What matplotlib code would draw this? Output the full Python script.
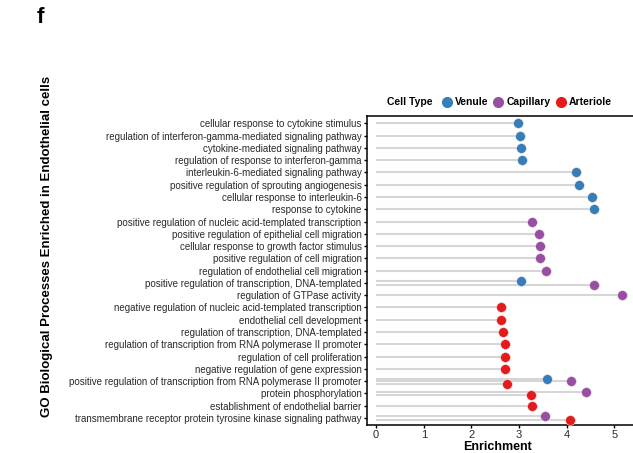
import matplotlib.pyplot as plt
from matplotlib.lines import Line2D

plt.rcParams['font.family'] = ['Liberation Sans', 'DejaVu Sans']

terms = [
    "cellular response to cytokine stimulus",
    "regulation of interferon-gamma-mediated signaling pathway",
    "cytokine-mediated signaling pathway",
    "regulation of response to interferon-gamma",
    "interleukin-6-mediated signaling pathway",
    "positive regulation of sprouting angiogenesis",
    "cellular response to interleukin-6",
    "response to cytokine",
    "positive regulation of nucleic acid-templated transcription",
    "positive regulation of epithelial cell migration",
    "cellular response to growth factor stimulus",
    "positive regulation of cell migration",
    "regulation of endothelial cell migration",
    "positive regulation of transcription, DNA-templated",
    "regulation of GTPase activity",
    "negative regulation of nucleic acid-templated transcription",
    "endothelial cell development",
    "regulation of transcription, DNA-templated",
    "regulation of transcription from RNA polymerase II promoter",
    "regulation of cell proliferation",
    "negative regulation of gene expression",
    "positive regulation of transcription from RNA polymerase II promoter",
    "protein phosphorylation",
    "establishment of endothelial barrier",
    "transmembrane receptor protein tyrosine kinase signaling pathway",
]

venule = [2.98, 3.01, 3.05, 3.07, 4.19, 4.26, 4.54, 4.57, None, None, None, None, None,
          3.04, None, None, None, None, None, None, None, 3.59, None, None, None]
capillary = [None, None, None, None, None, None, None, None, 3.28, 3.42, 3.45, 3.45, 3.56,
             4.57, 5.16, None, None, None, None, None, None, 4.09, 4.41, None, 3.54]
arteriole = [None, None, None, None, None, None, None, None, None, None, None, None, None,
             None, None, 2.63, 2.63, 2.66, 2.70, 2.70, 2.70, 2.74, 3.26, 3.27, 4.08]

series = [("Venule", venule, "#377EB8"),
          ("Capillary", capillary, "#984EA3"),
          ("Arteriole", arteriole, "#E41A1C")]

fig = plt.figure(figsize=(6.33, 4.53), dpi=100)
ax = fig.add_axes([0.580, 0.062, 0.425, 0.682])


def offsets(i):
    present = [s for s in series if s[1][i] is not None]
    n = len(present)
    step = 0.27 if n == 2 else 0.2
    return [(s, 0 if n == 1 else (k - (n - 1) / 2) * step) for k, s in enumerate(present)]


# stems first, dots on top
for i in range(len(terms)):
    for (name, vals, col), off in offsets(i):
        ax.plot([0, vals[i]], [i + off, i + off], color="#d6d6d6", lw=1.5, zorder=1,
                solid_capstyle="butt")
for i in range(len(terms)):
    for (name, vals, col), off in offsets(i):
        ax.scatter(vals[i], i + off, s=50, color=col, edgecolor="#f3e3e3",
                   linewidth=0.4, zorder=3)

ax.set_ylim(len(terms) - 1 + 0.57, -0.6)
ax.set_xlim(-0.19, 5.46)
ax.set_yticks(range(len(terms)))
ax.set_yticklabels(terms, fontsize=7.05, color="#2a2a2a")
ax.set_xticks(range(6))
ax.set_xticklabels([str(v) for v in range(6)], fontsize=8, color="#2a2a2a")
ax.tick_params(axis="both", length=2.5, width=1, color="black", pad=1.5)
for sp in ax.spines.values():
    sp.set_linewidth(1.1)
ax.set_xlabel("Enrichment", fontsize=9, fontweight="bold", labelpad=0)
ax.xaxis.set_label_coords(0.483, -0.052)

fig.text(0.074, 0.457, "GO Biological Processes Enriched in Endothelial cells",
         rotation=90, ha="center", va="center", fontsize=9.5, fontweight="bold")
fig.text(0.064, 0.962, "f", fontsize=16, fontweight="bold", ha="center", va="center")

fig.text(0.612, 0.774, "Cell Type", fontsize=7.5, fontweight="bold", va="center")
handles = [Line2D([], [], marker="o", linestyle="none", markersize=7,
                  markerfacecolor=c, markeredgecolor=c) for _, _, c in series]
leg = fig.legend(handles, [s[0] for s in series], ncol=3, loc="center left",
                 bbox_to_anchor=(0.699, 0.774), frameon=False, handlelength=0.8,
                 handletextpad=0.35, columnspacing=0.6, borderpad=0, borderaxespad=0,
                 prop={"size": 7.5, "weight": "bold"})

fig.savefig("out.png", dpi=100)
